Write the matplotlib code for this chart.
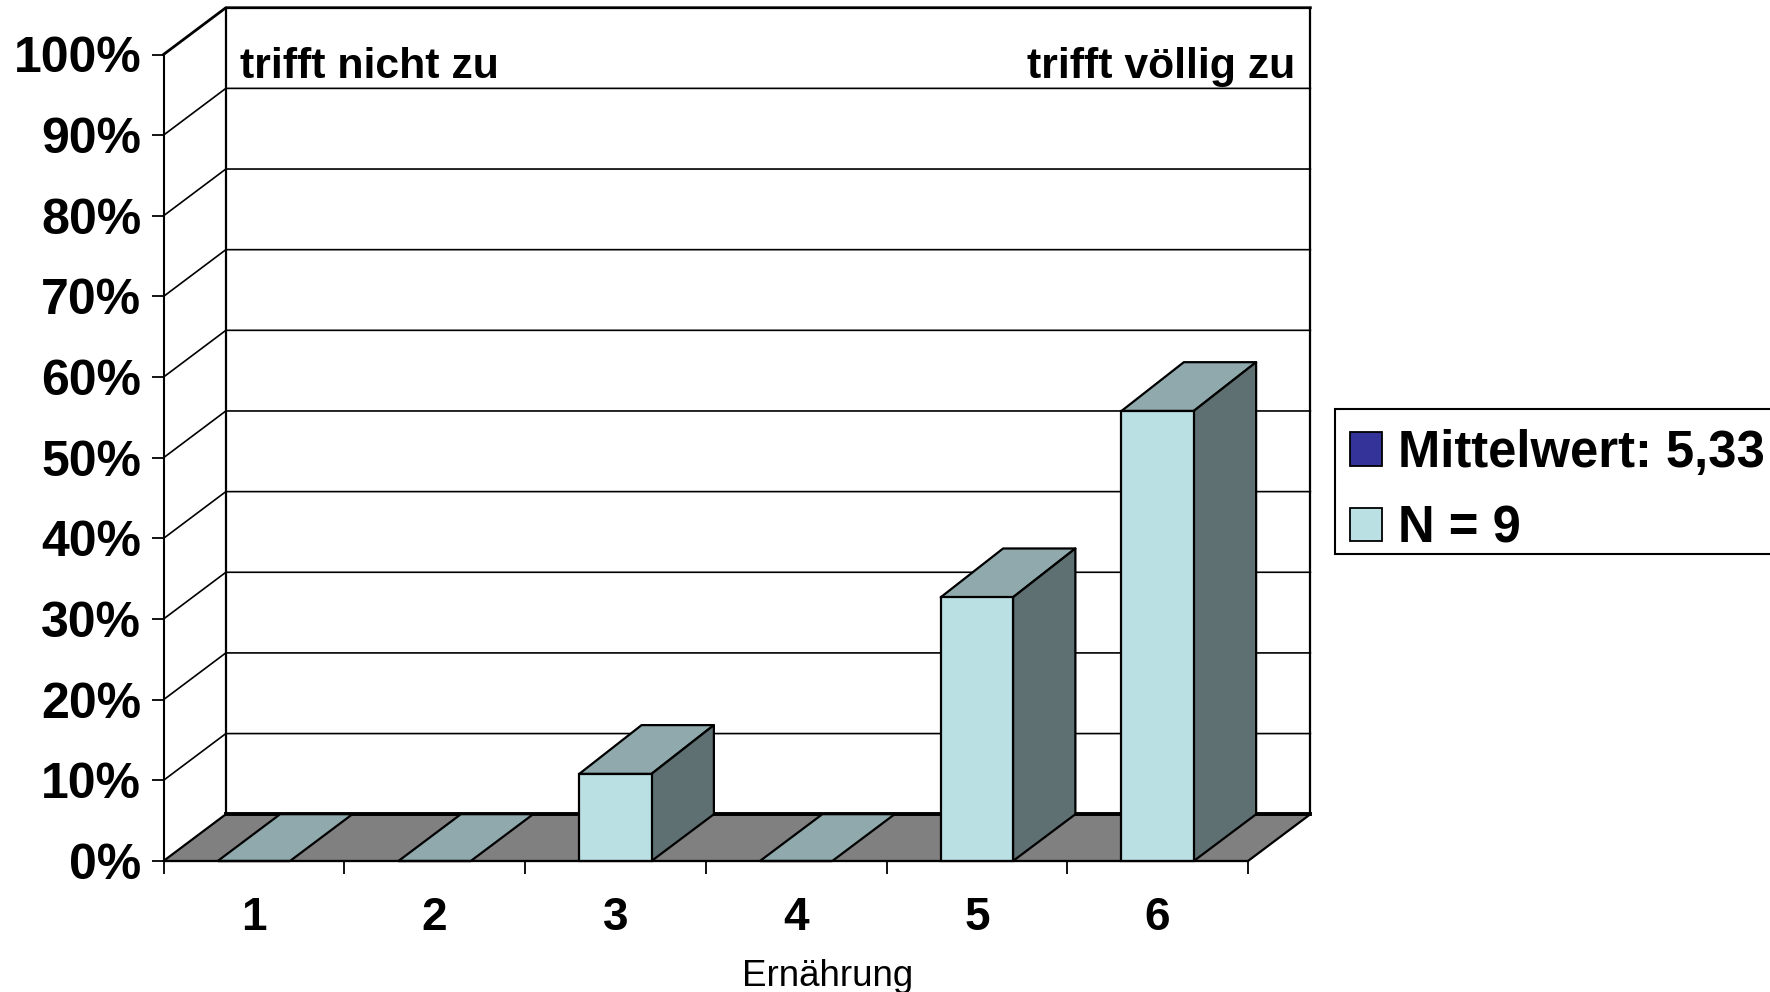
import matplotlib
matplotlib.use("Agg")
import matplotlib.pyplot as plt
from matplotlib.patches import Polygon, Patch, Rectangle

# ── Data ──────────────────────────────────────────────────
categories = ["1", "2", "3", "4", "5", "6"]
values_pct = [0, 0, 10.8, 0, 32.7, 55.8]
y_ticks    = [0, 10, 20, 30, 40, 50, 60, 70, 80, 90, 100]
y_labels   = [f"{v}%" for v in y_ticks]
legend_labels = ["Mittelwert: 5,33", "N = 9"]

# ── Style ─────────────────────────────────────────────────
FONT        = "Liberation Sans"
FRONT_COLOR = "#BBE0E3"
TOP_COLOR   = "#8FA9AC"
SIDE_COLOR  = "#5F7073"
FLOOR_COLOR = "#808080"
MEAN_COLOR  = "#333399"
BAR_WIDTH   = 0.40
DEPTH_X     = 0.345     # depth shift in category units
DEPTH_Y     = 5.8       # depth shift in percent units
BAR_DEPTH_Y = 6.05      # bar tops lean back a little more than the floor

plt.rcParams["font.family"] = FONT

fig = plt.figure(figsize=(17.7, 9.92), dpi=100, facecolor="white")
ax = fig.add_axes([163.5 / 1770, (992 - 861) / 992, 1084.5 / 1770, 806.5 / 992])
ax.set_xlim(0, len(categories))
ax.set_ylim(0, 100)
ax.patch.set_visible(False)


def shifted(x, y, dy=DEPTH_Y):
    return (x + DEPTH_X, y + dy)


def draw_poly(points, color, z, lw=1.6):
    ax.add_patch(Polygon(points, closed=True, facecolor=color, edgecolor="black",
                         linewidth=lw, clip_on=False, zorder=z, joinstyle="round"))


n = len(categories)

# floor
draw_poly([(0, 0), (n, 0), shifted(n, 0), shifted(0, 0)], FLOOR_COLOR, 1)
ax.plot([DEPTH_X, n + DEPTH_X], [DEPTH_Y, DEPTH_Y], color="black", lw=2.8,
        clip_on=False, zorder=1.5)

# walls and grid
for v in y_ticks[1:]:
    ax.plot([0, DEPTH_X, n + DEPTH_X], [v, v + DEPTH_Y, v + DEPTH_Y],
            color="black", lw=2.0 if v == 100 else 1.2, clip_on=False, zorder=0.5)
ax.plot([DEPTH_X, DEPTH_X], [DEPTH_Y, 100 + DEPTH_Y], color="black", lw=1.6,
        clip_on=False, zorder=0.6)
ax.plot([n + DEPTH_X, n + DEPTH_X], [DEPTH_Y, 100 + DEPTH_Y], color="black", lw=1.6,
        clip_on=False, zorder=0.6)

# bars
positions = [i + 0.5 for i in range(n)]
ax.bar(positions, values_pct, width=BAR_WIDTH, color=FRONT_COLOR, edgecolor="black",
       linewidth=1.6, zorder=4, clip_on=False)
for pos, val in zip(positions, values_pct):
    left, right = pos - BAR_WIDTH / 2, pos + BAR_WIDTH / 2
    if val > 0:
        draw_poly([(left, val), (right, val), shifted(right, val, BAR_DEPTH_Y),
                   shifted(left, val, BAR_DEPTH_Y)], TOP_COLOR, 3)
        draw_poly([(right, 0), (right, val), shifted(right, val, BAR_DEPTH_Y),
                   shifted(right, 0)], SIDE_COLOR, 3)
    else:
        draw_poly([(left, 0), (right, 0), shifted(right, 0), shifted(left, 0)], TOP_COLOR, 3)

# axes
for name in ["top", "right"]:
    ax.spines[name].set_visible(False)
for name in ["left", "bottom"]:
    ax.spines[name].set_linewidth(1.5)
    ax.spines[name].set_zorder(5)

ax.set_yticks(y_ticks)
ax.set_yticklabels(y_labels, fontsize=36, fontweight="bold")
ax.tick_params(axis="y", length=9, width=1.3, pad=7)

ax.set_xticks(range(n + 1))
ax.set_xticklabels([])
ax.set_xticks(positions, minor=True)
ax.set_xticklabels(categories, minor=True, fontsize=33, fontweight="bold")
ax.tick_params(axis="x", which="major", length=9, width=1.3)
ax.tick_params(axis="x", which="minor", length=0, pad=25.5)

ax.set_xlabel("Ernährung", fontsize=26.5)
ax.xaxis.set_label_coords(0.612, -0.121)

# scale ends
ax.text(0.425, 98.5, "trifft nicht zu", fontsize=30.8, fontweight="bold", va="center", ha="left")
ax.text(6.26, 98.5, "trifft völlig zu", fontsize=30.8, fontweight="bold", va="center", ha="right")

# legend box runs past the right figure edge, so it is drawn apart from the legend
fig.add_artist(Rectangle((1335 / 1770, (992 - 554) / 992), 500 / 1770, 145.5 / 992,
                         transform=fig.transFigure, facecolor="white", edgecolor="black",
                         linewidth=1.5, zorder=2))
handles = [Patch(facecolor=MEAN_COLOR, edgecolor="black", linewidth=1.3),
           Patch(facecolor=FRONT_COLOR, edgecolor="black", linewidth=1.3)]
leg = fig.legend(handles, legend_labels, loc="upper left",
                 bbox_to_anchor=(1350 / 1770, (992 - 429) / 992),
                 prop={"family": FONT, "weight": "bold", "size": 36.5},
                 frameon=False,
                 handlelength=0.64, handleheight=0.64, handletextpad=0.3,
                 labelspacing=0.52, borderpad=0, borderaxespad=0)
leg.set_zorder(3)

fig.savefig("out.png", dpi=100, facecolor="white")
plt.close(fig)
